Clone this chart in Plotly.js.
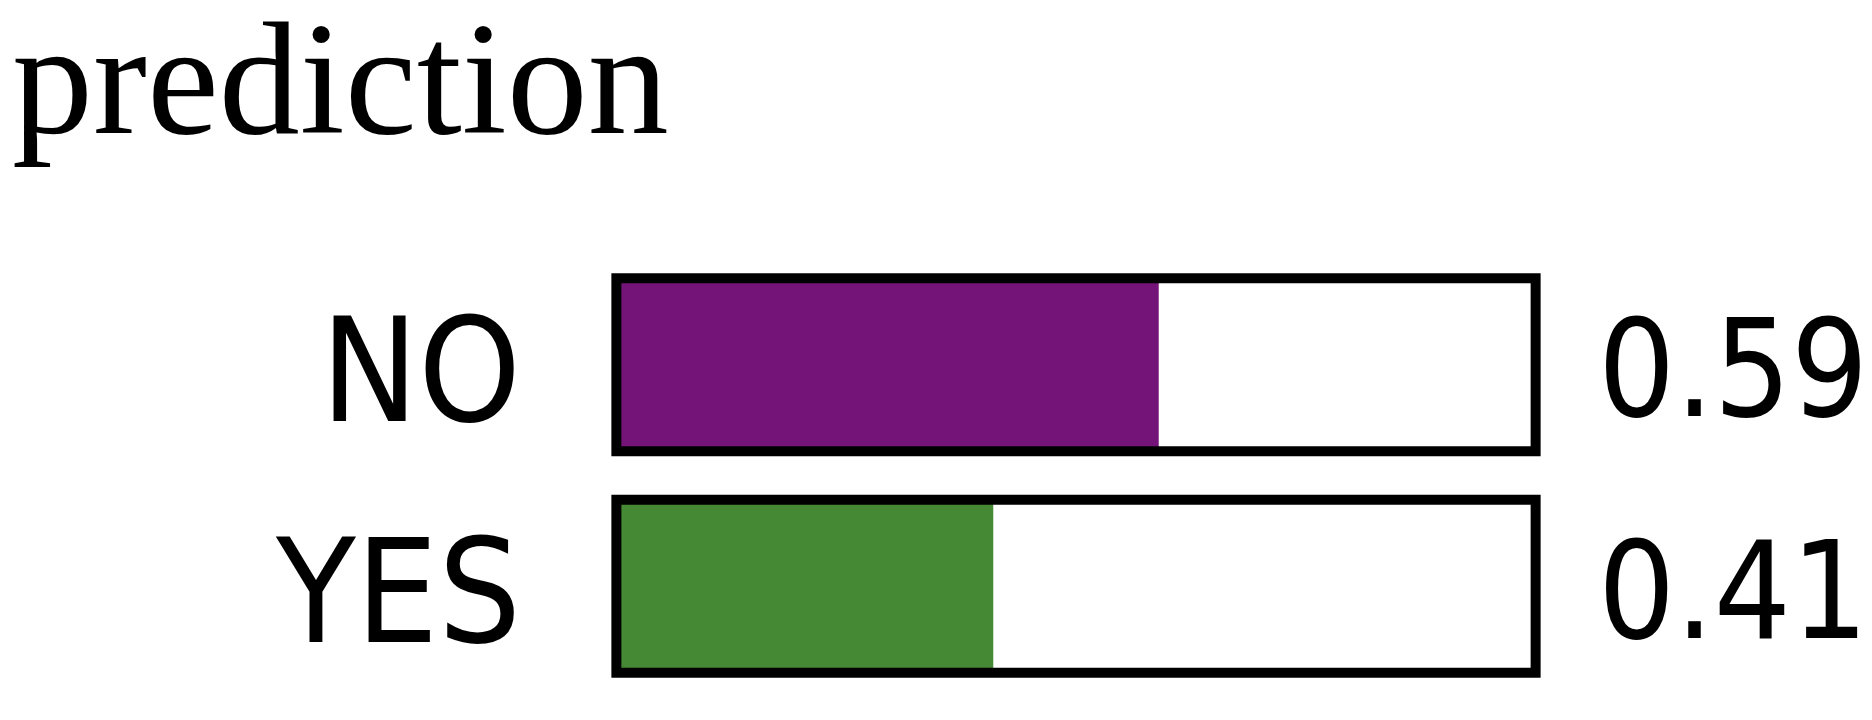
<!DOCTYPE html>
<html>
<head>
<meta charset="utf-8">
<script src="https://cdn.plot.ly/plotly-3.0.1.min.js"></script>
<style>html,body{margin:0;padding:0;background:#fff;}#chart{width:1872px;height:720px;}</style>
</head>
<body>
<div id="chart"></div>
<script>
const categories = ["NO", "YES"];
const probabilities = [0.59, 0.41];
const barColors = ["#751478", "#458935"];
const frameValues = [1, 1];
const chartTitle = "prediction";

const labelFont = "DejaVu Sans Condensed, DejaVu Sans";

const valueTrace = {
  type: "bar", orientation: "h",
  y: categories, x: probabilities,
  width: 0.78,
  marker: { color: barColors, line: { width: 0 } },
  hoverinfo: "skip", showlegend: false
};
const frameTrace = {
  type: "bar", orientation: "h",
  y: categories, x: frameValues,
  width: 0.78,
  marker: { color: "rgba(0,0,0,0)", line: { color: "#000", width: 10 } },
  hoverinfo: "skip", showlegend: false
};

const annotations = categories.map((c, i) => ({
  x: 1, y: c, xref: "x", yref: "y",
  text: probabilities[i].toFixed(2),
  showarrow: false, xanchor: "left", yanchor: "middle",
  xshift: 60, yshift: -5,
  font: { family: labelFont, size: 135, color: "#000" }
}));

const layout = {
  width: 1872, height: 720,
  paper_bgcolor: "#fff", plot_bgcolor: "#fff",
  margin: { l: 598, r: 318, t: 254, b: 23 },
  barmode: "overlay",
  title: {
    text: chartTitle,
    xref: "container", yref: "container",
    x: 12 / 1872, xanchor: "left",
    y: 1, yanchor: "top",
    pad: { t: 20, l: 0 },
    font: { family: "Liberation Serif", size: 162, color: "#000" }
  },
  xaxis: { range: [-0.02, 1.02], visible: false, fixedrange: true },
  yaxis: {
    type: "category", categoryorder: "array", categoryarray: categories,
    range: [1.5, -0.5],
    showgrid: false, zeroline: false, showline: false, ticks: "",
    ticklabelstandoff: 76,
    ticklabelshift: -5,
    tickfont: { family: labelFont, size: 145, color: "#000" },
    fixedrange: true
  },
  annotations: annotations
};

Plotly.newPlot("chart", [valueTrace, frameTrace], layout, { displayModeBar: false, staticPlot: true });
</script>
</body>
</html>
